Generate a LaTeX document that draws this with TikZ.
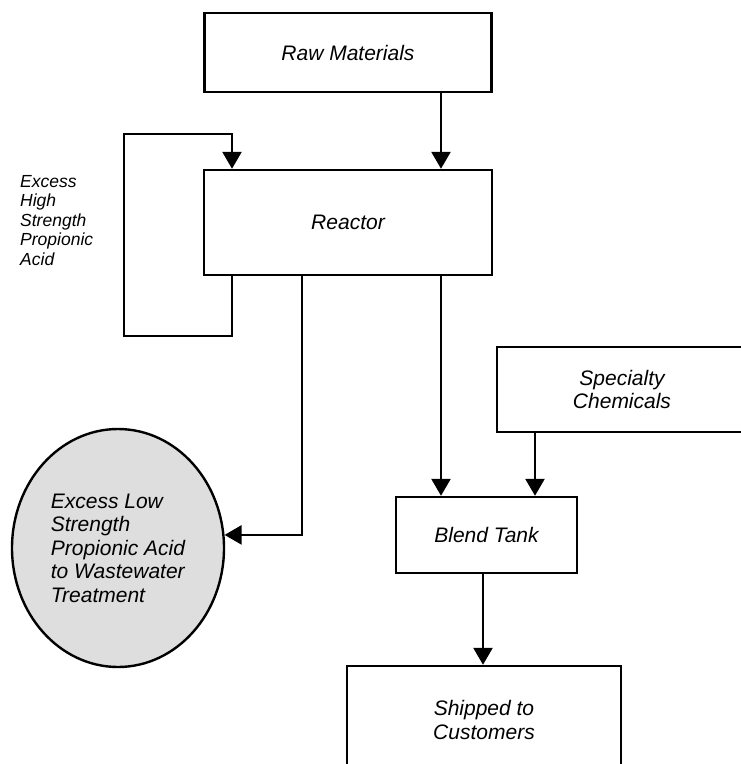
\documentclass[tikz,border=0pt]{standalone}
\usepackage{fontspec}
\setmainfont{Liberation Sans}
\usetikzlibrary{arrows.meta, positioning, calc, shapes.geometric}

\tikzset{
    stepbox/.style={draw, line width=2.4pt, rectangle, inner sep=0pt, align=center,
        font=\itshape\fontsize{21}{23.5}\selectfont},
    flow/.style={line width=2.4pt, -{Triangle[length=17pt,width=19pt]}},
}

\begin{document}
\begin{tikzpicture}[x=1pt, y=-1pt, line join=miter]
    \useasboundingbox (0,0) rectangle (740,764);

    \node[stepbox, minimum width=287pt, minimum height=79pt] (raw) at (348,52.5) {Raw Materials};
    \node[stepbox, minimum width=288pt, minimum height=105pt] (reactor) at (348,222.5) {Reactor};
    \node[stepbox, minimum width=250pt, minimum height=85pt] (spec) at (622,389.5) {Specialty\\Chemicals};
    \node[stepbox, minimum width=181pt, minimum height=76pt] (blend) at (486.5,535) {Blend Tank};
    \node[stepbox, minimum width=274pt, minimum height=108pt] (ship) at (484,720) {Shipped to\\Customers};

    % wastewater
    \node[ellipse, draw, line width=2.4pt, fill=black!13, inner sep=0pt,
        minimum width=212pt, minimum height=238pt, align=left,
        font=\itshape\fontsize{21}{23.5}\selectfont] (waste) at (118,548)
        {Excess Low\\Strength\\Propionic Acid\\to Wastewater\\Treatment};

    \node[anchor=north west, inner sep=0pt, align=left,
        font=\itshape\fontsize{17.5}{19.5}\selectfont] (hilabel) at (20,175)
        {Excess\\High\\Strength\\Propionic\\Acid};

    % flows
    \draw[flow] ([xshift=93pt]raw.south) -- ([xshift=93pt]reactor.north);
    \draw[flow] ([xshift=-116pt]reactor.south) -- ++(0,60) -- ++(-108,0)
        -- ++(0,-202) -- ++(108,0) -- ([xshift=-116pt]reactor.north);
    \draw[flow] ([xshift=-46pt]reactor.south) |- (waste.7);
    \draw[flow] ([xshift=93pt]reactor.south) -- ([xshift=-45.5pt]blend.north);
    \draw[flow] ([xshift=-87pt]spec.south) -- ([xshift=48.5pt]blend.north);
    \draw[flow] ([xshift=-3.5pt]blend.south) -- ([xshift=-3.5pt]blend.south |- ship.north);
\end{tikzpicture}
\end{document}
